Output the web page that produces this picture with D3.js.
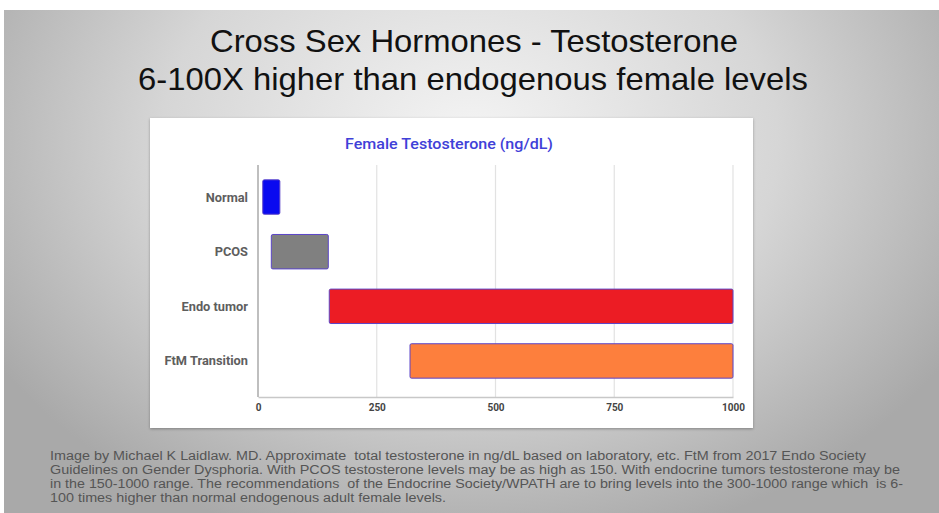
<!DOCTYPE html>
<html><head><meta charset="utf-8">
<script src="https://cdn.jsdelivr.net/npm/d3@7"></script>
<style>html,body{margin:0;padding:0;background:#fff;}svg{display:block;}</style>
</head><body>
<script>
const categories = ["Normal", "PCOS", "Endo tumor", "FtM Transition"];
const lowValues = [10, 28, 150, 320];
const highValues = [46, 148, 1000, 1000];
const barColors = ["#0a0af0", "#808080", "#ec1c24", "#fd7f3d"];
const tickValues = [0, 250, 500, 750, 1000];
const headingLines = ["Cross Sex Hormones - Testosterone", "6-100X higher than endogenous female levels"];
const chartTitle = "Female Testosterone (ng/dL)";
const noteLines = [
 "Image by Michael K Laidlaw. MD. Approximate  total testosterone in ng/dL based on laboratory, etc. FtM from 2017 Endo Society",
 "Guidelines on Gender Dysphoria. With PCOS testosterone levels may be as high as 150. With endocrine tumors testosterone may be",
 "in the 150-1000 range. The recommendations  of the Endocrine Society/WPATH are to bring levels into the 300-1000 range which  is 6-",
 "100 times higher than normal endogenous adult female levels."
];

const W = 939, H = 513;
const svg = d3.select("body").append("svg").attr("width", W).attr("height", H);
const defs = svg.append("defs");
const rg = defs.append("radialGradient").attr("id","bg").attr("gradientUnits","userSpaceOnUse")
  .attr("cx",470).attr("cy",140).attr("r",560).attr("gradientTransform","translate(470,140) scale(1,0.75) translate(-470,-140)");
rg.append("stop").attr("offset","0%").attr("stop-color","#f4f4f4");
rg.append("stop").attr("offset","55%").attr("stop-color","#d6d6d6");
rg.append("stop").attr("offset","100%").attr("stop-color","#a9a9a9");
const sh = defs.append("filter").attr("id","sh").attr("x","-5%").attr("y","-5%").attr("width","110%").attr("height","110%");
sh.append("feDropShadow").attr("dx",0).attr("dy",1).attr("stdDeviation",1.5).attr("flood-color","#000").attr("flood-opacity",0.3);

svg.append("rect").attr("x",0).attr("y",0).attr("width",W).attr("height",H).attr("fill","#fff");
svg.append("rect").attr("x",4).attr("y",10).attr("width",W-4).attr("height",H-10).attr("fill","url(#bg)");

// headings
const headX = [210, 138], headW = [528, 670];
svg.selectAll("text.head").data(headingLines).join("text").attr("class","head")
  .attr("x",(d,i)=>headX[i]).attr("y",(d,i)=>52+i*38)
  .attr("font-family","Liberation Sans, Arial, sans-serif").attr("font-size",30.5).attr("fill","#111")
  .attr("textLength",(d,i)=>headW[i]).attr("lengthAdjust","spacingAndGlyphs")
  .text(d=>d);

// panel
svg.append("rect").attr("x",150).attr("y",118).attr("width",603).attr("height",310).attr("fill","#fff").attr("filter","url(#sh)");

const x = d3.scaleLinear().domain([0,1000]).range([258,733]);
const y = d3.scaleBand().domain(categories).range([170,388]).paddingInner(0.37).paddingOuter(0.18);

svg.append("text").attr("x",345).attr("y",149)
  .attr("font-family","Roboto, sans-serif").attr("font-weight",500).attr("font-size",15.5).attr("fill","#4040d8")
  .attr("textLength",208).attr("lengthAdjust","spacingAndGlyphs").text(chartTitle);

// gridlines
const g = svg.append("g");
g.selectAll("line.grid").data(tickValues.slice(1)).join("line").attr("class","grid")
  .attr("x1",d=>x(d)).attr("x2",d=>x(d)).attr("y1",165).attr("y2",397)
  .attr("stroke","#e2e2e2").attr("stroke-width",1.2);

// x axis
const xAxis = svg.append("g").attr("transform","translate(0,397)")
  .call(d3.axisBottom(x).tickValues(tickValues).tickFormat(d3.format("d")).tickSize(0).tickPadding(7));
xAxis.select(".domain").attr("stroke","#c8c8c8").attr("stroke-width",1.5);
xAxis.selectAll("text").attr("font-family","Roboto, sans-serif").attr("font-weight","bold").attr("font-size",10).attr("fill","#444");

// y axis line
svg.append("line").attr("x1",x(0)).attr("x2",x(0)).attr("y1",165).attr("y2",397).attr("stroke","#aaa").attr("stroke-width",1.5);

// y labels
svg.selectAll("text.cat").data(categories).join("text").attr("class","cat")
  .attr("x",248).attr("y",d=>y(d)+y.bandwidth()/2+4.5).attr("text-anchor","end")
  .attr("font-family","Roboto, sans-serif").attr("font-weight","bold").attr("font-size",12.8).attr("fill","#5e5e5e")
  .text(d=>d);

// bars
svg.selectAll("rect.bar").data(categories).join("rect").attr("class","bar")
  .attr("x",(d,i)=>x(lowValues[i])).attr("width",(d,i)=>x(highValues[i])-x(lowValues[i]))
  .attr("y",d=>y(d)).attr("height",y.bandwidth()).attr("rx",1.5)
  .attr("fill",(d,i)=>barColors[i]).attr("stroke","#5b45c9").attr("stroke-width",1);

// footnote
const noteW = [816, 850, 853, 396];
svg.selectAll("text.note").data(noteLines).join("text").attr("class","note")
  .attr("x",50).attr("y",(d,i)=>460+i*14)
  .attr("font-family","Liberation Sans, Arial, sans-serif").attr("font-size",12.3).attr("fill","#555")
  .attr("textLength",(d,i)=>noteW[i]).attr("lengthAdjust","spacingAndGlyphs")
  .style("white-space","pre")
  .text(d=>d);
</script>
</body></html>
